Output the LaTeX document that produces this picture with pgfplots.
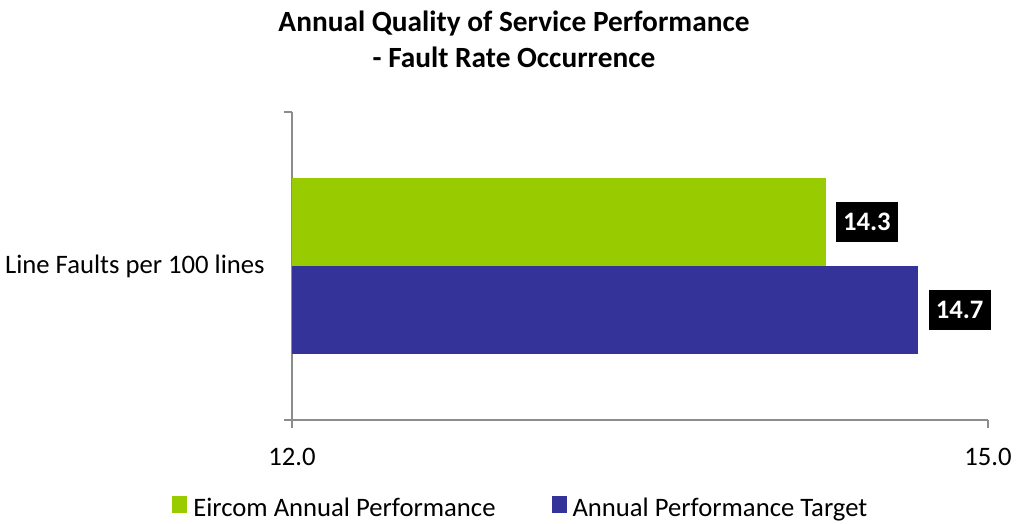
\documentclass[border=0pt]{standalone}
\usepackage{fontspec}
\setmainfont{Carlito}
\usepackage{pgfplots}
\pgfplotsset{compat=1.18}
\definecolor{barGreen}{HTML}{99CC00}
\definecolor{barBlue}{HTML}{333399}
\definecolor{axisGray}{HTML}{8C8C8C}
\pgfplotsset{
  sqlegend/.style={legend image code/.code={\fill[##1] (0pt,-3.5pt) rectangle (11.25pt,9.25pt);}}
}
\begin{document}
\begin{tikzpicture}[font=\fontsize{20}{24}\selectfont]
\useasboundingbox (-219pt,-78pt) rectangle (543.75pt,315pt);
\begin{axis}[
  at={(0pt,0pt)}, anchor=south west,
  scale only axis, width=522pt, height=231pt,
  xbar, bar width=0.5714,
  xmin=12, xmax=15, ymin=-1, ymax=1,
  clip mode=individual,
  axis x line*=bottom, axis y line*=left,
  axis line style={draw=axisGray, line width=1.2pt, -},
  every outer x axis line/.append style={-},
  every outer y axis line/.append style={-},
  tick style={draw=axisGray, line width=1.2pt},
  tick align=outside, major tick length=6pt,
  xtick={12,15},
  ytick={-1,1}, yticklabels={},
  extra y ticks={0},
  extra y tick labels={Line Faults per 100 lines},
  extra y tick style={major tick length=0pt, yticklabel style={inner sep=0pt, xshift=-20.25pt}},
  ticklabel style={font=\fontsize{20}{24}\selectfont},
  xticklabel style={inner sep=0pt, yshift=-15pt},
  /pgf/number format/assume math mode=true,
  xticklabel={\pgfmathprintnumber[fixed,fixed zerofill,precision=1]{\tick}},
  nodes near coords={\pgfmathprintnumber[fixed,fixed zerofill,precision=1,assume math mode=true]{\pgfplotspointmeta}},
  every node near coord/.append style={fill=black, text=white,
    font=\bfseries\fontsize{20}{24}\selectfont, anchor=west, xshift=7.5pt,
    inner sep=0pt, minimum width=46.5pt, minimum height=30pt},
  legend columns=2,
  legend style={at={(-0.1724,-0.284)}, anchor=west, draw=none, fill=none,
    inner sep=0pt, font=\fontsize{20}{24}\selectfont,
    nodes={inner sep=0pt},
    /tikz/every odd column/.append style={column sep=4.5pt},
    /tikz/every even column/.append style={column sep=42pt}},
]
\addplot[fill=barGreen, draw=none, bar shift=0pt, sqlegend] coordinates {(14.3,0.2857)};
\addplot[fill=barBlue, draw=none, bar shift=0pt, sqlegend] coordinates {(14.7,-0.2857)};
\legend{Eircom Annual Performance, Annual Performance Target}
\end{axis}
\node[anchor=base, font=\bfseries\fontsize{22}{26}\selectfont] at (166.5pt,291pt) {Annual Quality of Service Performance};
\node[anchor=base, font=\bfseries\fontsize{22}{26}\selectfont] at (166.5pt,264pt) {- Fault Rate Occurrence};
\end{tikzpicture}
\end{document}
